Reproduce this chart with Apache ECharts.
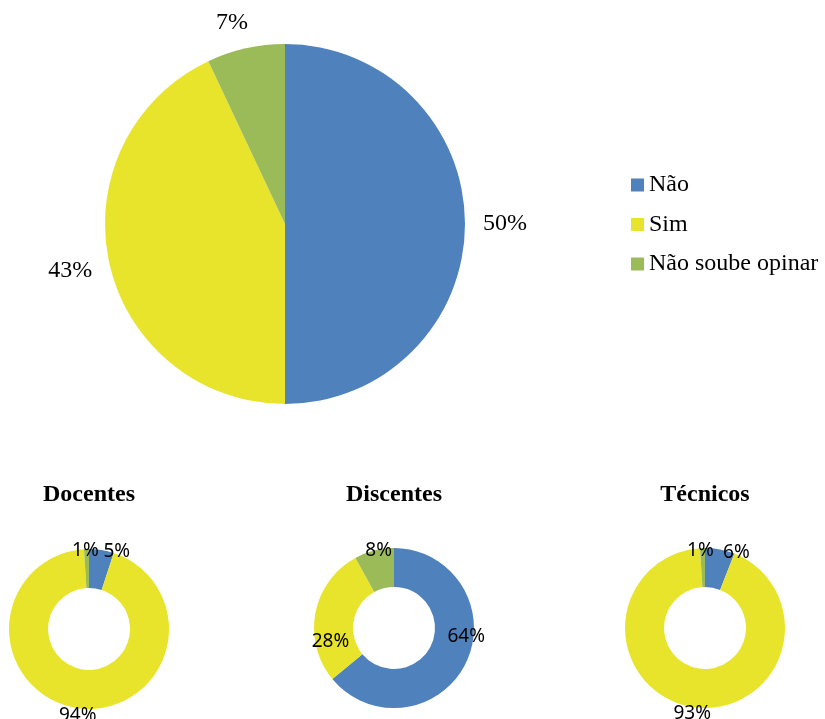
<!DOCTYPE html>
<html>
<head>
<meta charset="utf-8">
<script src="https://cdn.jsdelivr.net/npm/echarts@6/dist/echarts.min.js"></script>
<style>html,body{margin:0;padding:0;background:#fff;}#c{width:825px;height:719px;}</style>
</head>
<body>
<div id="c"></div>
<script>
const categories = ['Não', 'Sim', 'Não soube opinar'];
const colors = ['#4F81BD', '#E8E42B', '#9BBB59'];
const geralValues = [50, 43, 7];
const docentesValues = [5, 94, 1];
const discentesValues = [64, 28, 8];
const tecnicosValues = [6, 93, 1];
const groupTitles = ['Docentes', 'Discentes', 'Técnicos'];

// label nudges (style only): [dx, dy] per slice
const geralLabelNudge = [[5, 0], [-5, 0], [-6, 9]];
const docentesLabelNudge = [[15, 4], [-1, 5], [-1, 4]];
const discentesLabelNudge = [[-2, -26], [17, 29], [5, 2]];
const tecnicosLabelNudge = [[16, 5], [0, 5], [-2, 5]];

const serif = '"Liberation Serif", "Times New Roman", serif';
const sans = '"Noto Sans", "Open Sans", sans-serif';

function mk(vals) {
  return vals.map((v, i) => ({ name: categories[i], value: v, itemStyle: { color: colors[i] } }));
}
function labelRing(vals, nudge, center, radius, font, size) {
  return {
    type: 'pie', center, radius, startAngle: 90, clockwise: true,
    silent: true, avoidLabelOverlap: false, legendHoverLink: false,
    emphasis: { disabled: true },
    labelLayout: { hideOverlap: false },
    itemStyle: { color: 'rgba(0,0,0,0)', borderWidth: 0 },
    data: vals.map((v, i) => ({ name: categories[i] + ' ', value: v, label: { offset: nudge[i] } })),
    label: { show: true, position: 'inside', formatter: '{c}%', color: '#000', fontFamily: font, fontSize: size },
    labelLine: { show: false }
  };
}
function donut(vals, center) {
  return {
    type: 'pie', center, radius: [41, 80], startAngle: 90, clockwise: true,
    silent: true, avoidLabelOverlap: false,
    itemStyle: { borderWidth: 0 },
    label: { show: false }, labelLine: { show: false },
    data: mk(vals)
  };
}

const centers = [[89, 629], [394, 628], [705, 628]];
const groupVals = [docentesValues, discentesValues, tecnicosValues];
const groupNudges = [docentesLabelNudge, discentesLabelNudge, tecnicosLabelNudge];

const series = [
  {
    type: 'pie', center: [285, 224], radius: 180, startAngle: 90, clockwise: true,
    silent: true, avoidLabelOverlap: false,
    itemStyle: { borderWidth: 0 },
    label: { show: false }, labelLine: { show: false },
    data: mk(geralValues)
  },
  labelRing(geralValues, geralLabelNudge, [285, 224], [208, 216], serif, 24)
];
groupVals.forEach((vals, k) => {
  series.push(donut(vals, centers[k]));
  series.push(labelRing(vals, groupNudges[k], centers[k], [78, 80], sans, 19));
});

const chart = echarts.init(document.getElementById('c'));
chart.setOption({
  animation: false,
  backgroundColor: '#fff',
  title: groupTitles.map((t, k) => ({
    text: t, left: centers[k][0], top: 483, textAlign: 'center', padding: 0,
    textStyle: { fontFamily: serif, fontWeight: 'bold', fontSize: 24, color: '#000' }
  })),
  legend: {
    orient: 'vertical', left: 626, top: 168,
    data: categories, icon: 'rect', itemWidth: 13, itemHeight: 13, itemGap: 15.5,
    textStyle: { fontFamily: serif, fontSize: 24, color: '#000', lineHeight: 24 },
    selectedMode: false
  },
  series
});
</script>
</body>
</html>
